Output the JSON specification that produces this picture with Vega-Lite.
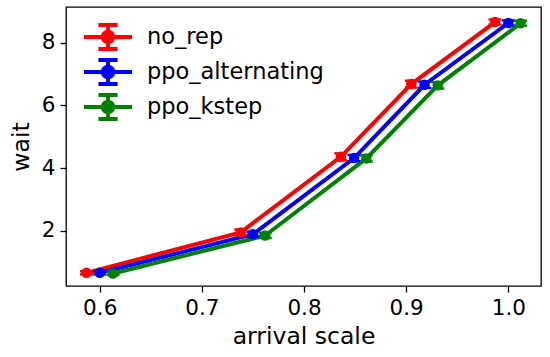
{
  "$schema": "https://vega.github.io/schema/vega-lite/v6.json",
  "autosize": {"type": "none"},
  "width": 475,
  "height": 279,
  "padding": {"left": 66, "top": 7, "right": 9, "bottom": 71},
  "background": "white",
  "config": {
    "font": "DejaVu Sans",
    "view": {"stroke": "black", "strokeWidth": 1.3},
    "axis": {
      "grid": false,
      "domain": false,
      "tickColor": "black",
      "tickSize": 6,
      "tickWidth": 1.3,
      "labelColor": "black",
      "labelFont": "DejaVu Sans",
      "labelFontSize": 21.5,
      "titleFont": "DejaVu Sans",
      "titleFontSize": 23.5,
      "titleFontWeight": "normal",
      "titleColor": "black"
    }
  },
  "data": {
    "values": [
      {"series": "no_rep", "x": 0.587, "y": 0.66, "lo": 0.61, "hi": 0.71},
      {"series": "no_rep", "x": 0.738, "y": 1.95, "lo": 1.86, "hi": 2.04},
      {"series": "no_rep", "x": 0.836, "y": 4.36, "lo": 4.25, "hi": 4.47},
      {"series": "no_rep", "x": 0.905, "y": 6.68, "lo": 6.57, "hi": 6.79},
      {"series": "no_rep", "x": 0.987, "y": 8.66, "lo": 8.58, "hi": 8.74},
      {"series": "ppo_alternating", "x": 0.600, "y": 0.66, "lo": 0.61, "hi": 0.71},
      {"series": "ppo_alternating", "x": 0.750, "y": 1.89, "lo": 1.81, "hi": 1.97},
      {"series": "ppo_alternating", "x": 0.849, "y": 4.32, "lo": 4.22, "hi": 4.42},
      {"series": "ppo_alternating", "x": 0.918, "y": 6.66, "lo": 6.56, "hi": 6.76},
      {"series": "ppo_alternating", "x": 1.000, "y": 8.63, "lo": 8.55, "hi": 8.71},
      {"series": "ppo_kstep", "x": 0.613, "y": 0.64, "lo": 0.59, "hi": 0.69},
      {"series": "ppo_kstep", "x": 0.762, "y": 1.85, "lo": 1.77, "hi": 1.93},
      {"series": "ppo_kstep", "x": 0.861, "y": 4.31, "lo": 4.21, "hi": 4.41},
      {"series": "ppo_kstep", "x": 0.931, "y": 6.64, "lo": 6.54, "hi": 6.74},
      {"series": "ppo_kstep", "x": 1.012, "y": 8.62, "lo": 8.54, "hi": 8.70}
    ]
  },
  "encoding": {
    "x": {
      "field": "x", "type": "quantitative",
      "scale": {"domain": [0.567, 1.032], "zero": false, "nice": false},
      "axis": {"title": "arrival scale", "values": [0.6, 0.7, 0.8, 0.9, 1.0], "format": ".1f", "labelPadding": 5, "titlePadding": 6}
    },
    "color": {
      "field": "series", "type": "nominal",
      "scale": {"domain": ["no_rep", "ppo_alternating", "ppo_kstep"], "range": ["#ff0000", "#0000ff", "#008000"]},
      "legend": {
        "title": null,
        "orient": "none",
        "legendX": 28,
        "legendY": 16,
        "direction": "vertical",
        "padding": 0,
        "symbolType": "M-2,0H2M0,-1V1M-0.8,-1H0.8M-0.8,1H0.8M0.45,0A0.45,0.45,0,1,1,-0.45,0A0.45,0.45,0,1,1,0.45,0Z",
        "symbolSize": 576,
        "symbolStrokeWidth": 3.8,
        "labelFontSize": 22.5,
        "labelFont": "DejaVu Sans",
        "labelColor": "black",
        "labelOffset": 25,
        "rowPadding": -5,
        "labelLimit": 300,
        "encode": {
          "symbols": {"update": {"fill": {"scale": "color", "field": "value"}, "stroke": {"scale": "color", "field": "value"}, "fillOpacity": {"value": 1}, "opacity": {"value": 1}}}
        }
      }
    }
  },
  "layer": [
    {
      "mark": {"type": "line", "strokeWidth": 4},
      "encoding": {
        "y": {
          "field": "y", "type": "quantitative",
          "scale": {"domain": [0.24, 9.14], "zero": false, "nice": false},
          "axis": {"title": "wait", "values": [2, 4, 6, 8], "format": "d", "labelPadding": 5, "titlePadding": 8}
        }
      }
    },
    {
      "mark": {"type": "rule", "strokeWidth": 2.5},
      "encoding": {
        "y": {"field": "lo", "type": "quantitative"},
        "y2": {"field": "hi"}
      }
    },
    {
      "mark": {"type": "tick", "orient": "horizontal", "size": 13, "thickness": 2.5, "opacity": 1},
      "encoding": {"y": {"field": "lo", "type": "quantitative"}}
    },
    {
      "mark": {"type": "tick", "orient": "horizontal", "size": 13, "thickness": 2.5, "opacity": 1},
      "encoding": {"y": {"field": "hi", "type": "quantitative"}}
    },
    {
      "mark": {"type": "point", "shape": "circle", "filled": true, "size": 110, "opacity": 1},
      "encoding": {"y": {"field": "y", "type": "quantitative"}}
    }
  ]
}
